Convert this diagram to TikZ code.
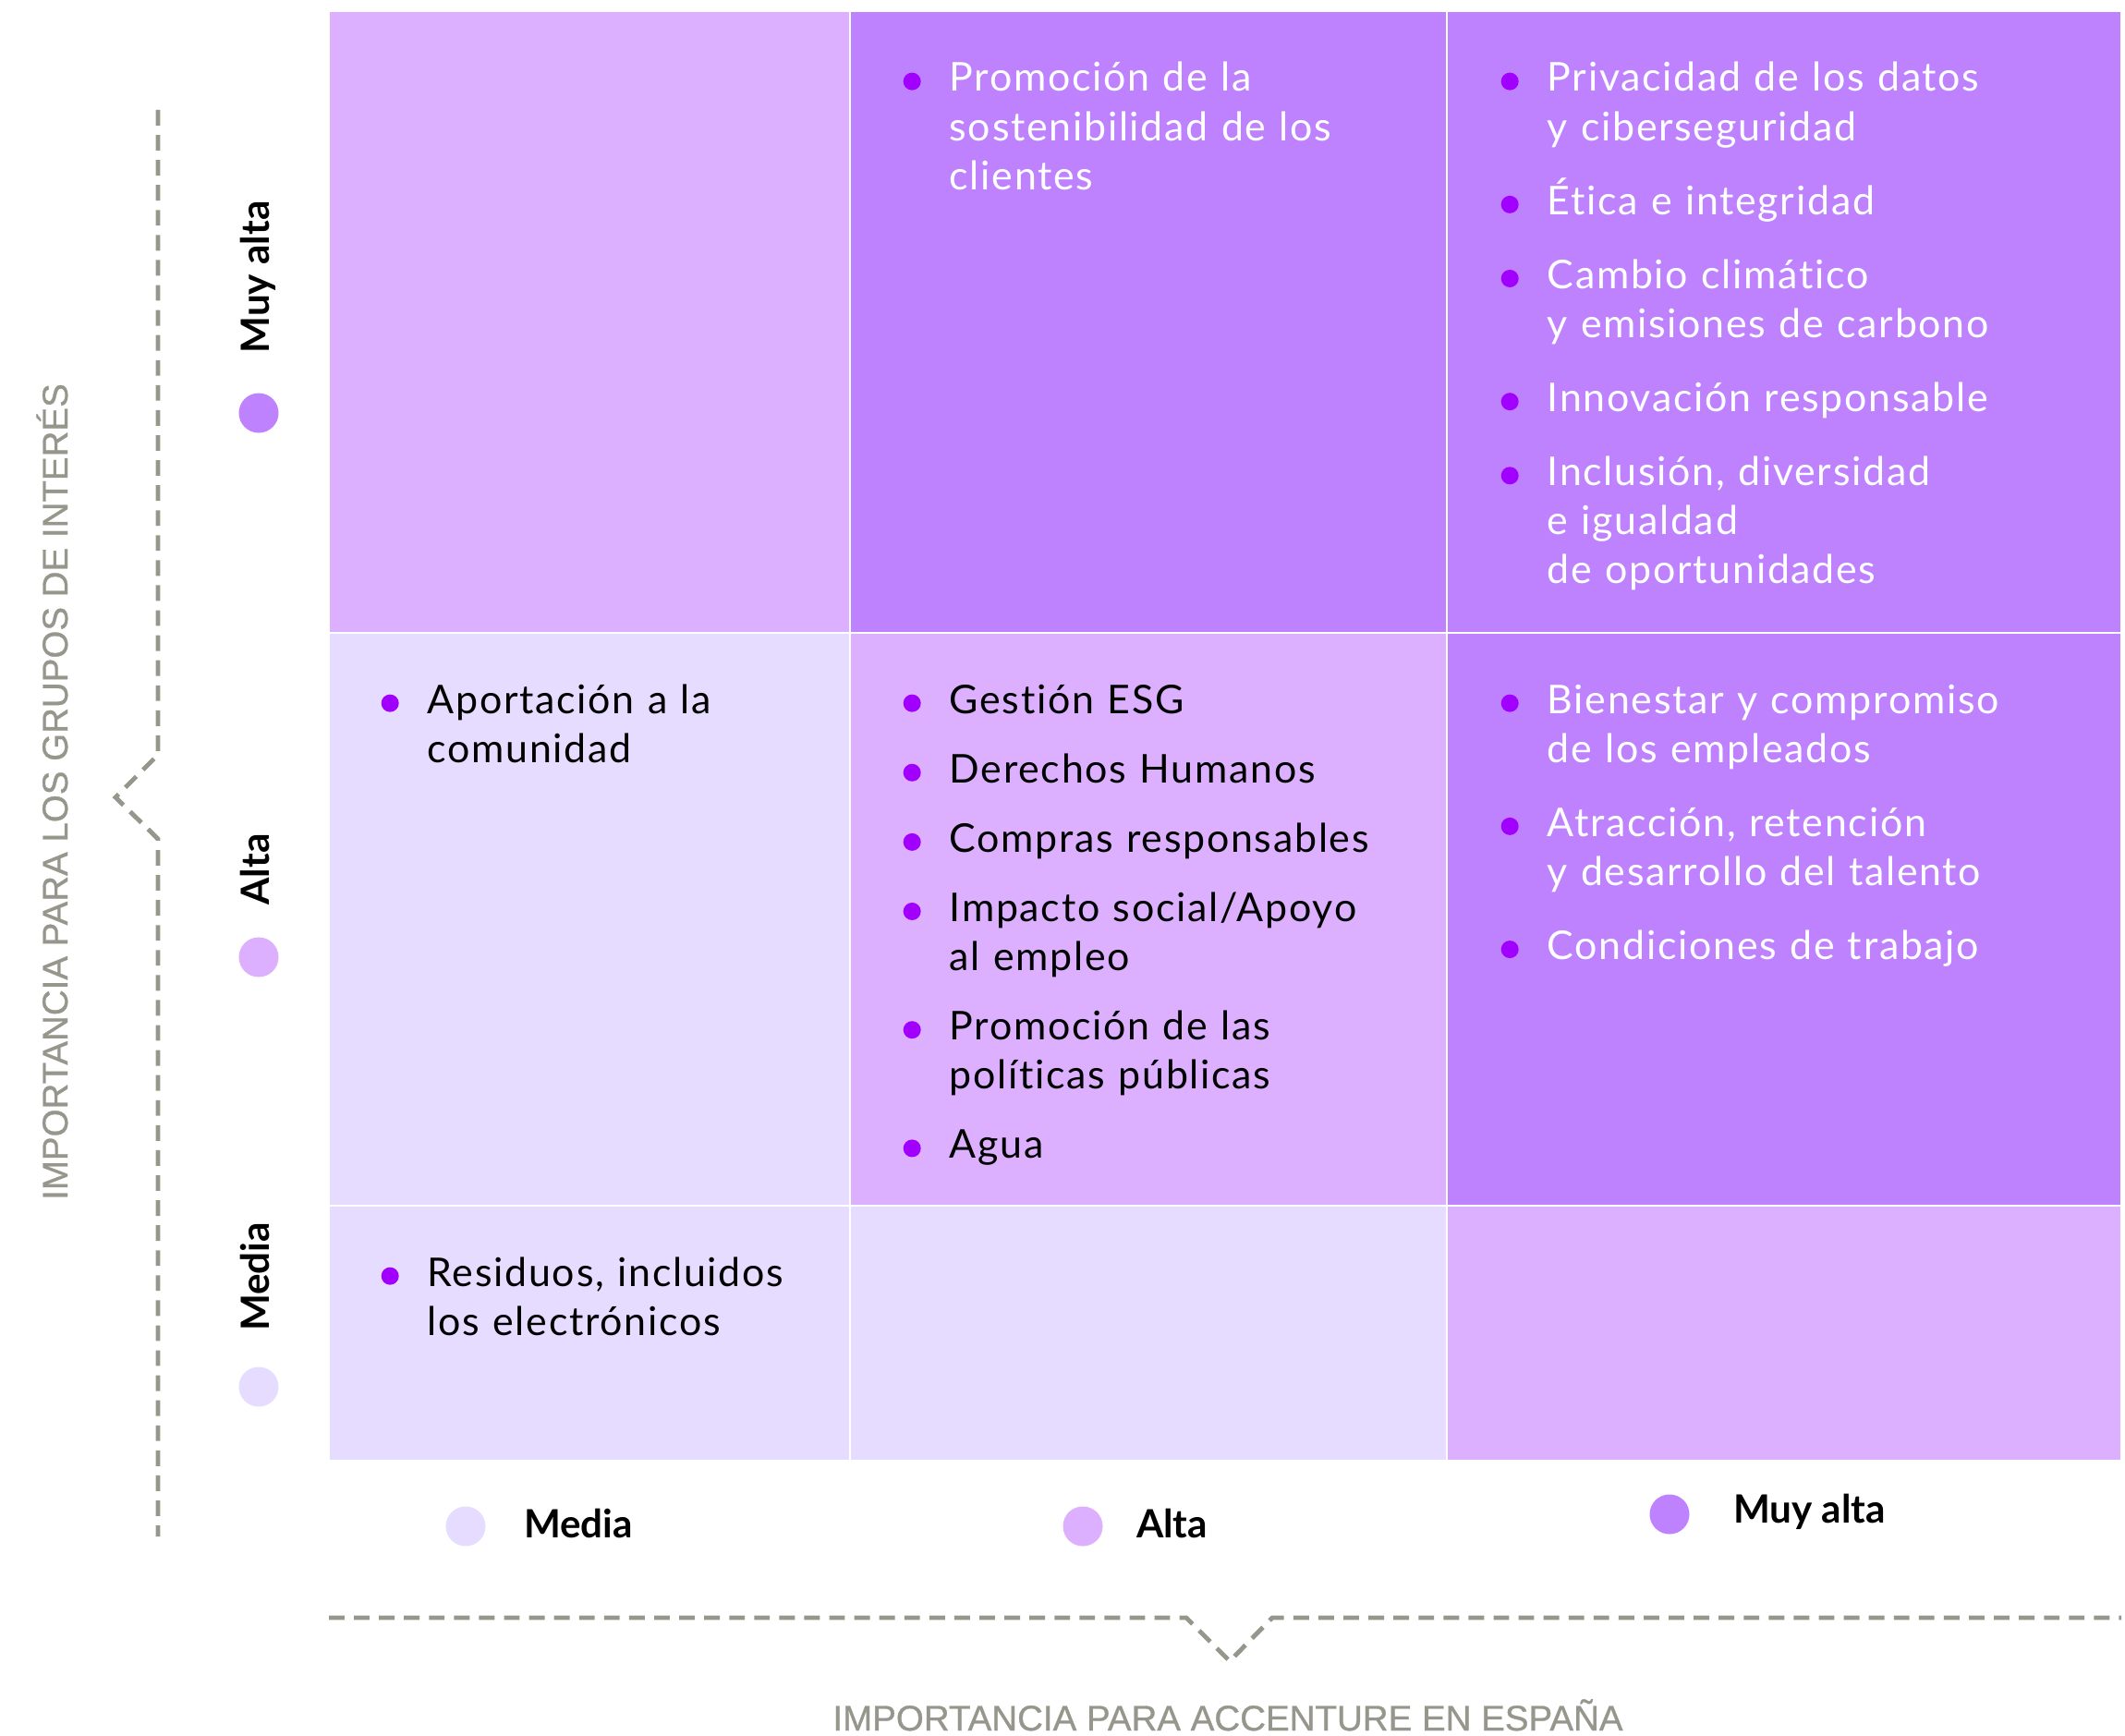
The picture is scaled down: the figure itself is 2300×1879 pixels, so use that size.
\documentclass[tikz,border=0pt]{standalone}
\usepackage{fontspec}
\setmainfont{Lato}
\newfontfamily\itmfont{Lato}[LetterSpace=4, Ligatures={NoCommon}]
\newfontfamily\axfont{Liberation Sans}[FakeBold=0.8]
\usetikzlibrary{positioning}
\definecolor{cdark}{HTML}{BE82FF}
\definecolor{cmid}{HTML}{DCAFFF}
\definecolor{clight}{HTML}{E6DCFF}
\definecolor{cbul}{HTML}{A100FF}
\definecolor{cgrey}{HTML}{96968C}
\tikzset{
  every picture/.style={line width=1pt},
  tile/.style={draw=white, line width=0.6pt, fill=#1},
  lst/.style={anchor=base west, inner sep=0pt, text width=6.2cm, align=left,
    font=\itmfont\fontsize{12.2}{15.1}\selectfont, execute at begin node={\def\itmgap{#1}}},
  lst/.default=0.27cm,
  axis/.style={draw=cgrey, line width=1.4pt, dash pattern=on 4.8pt off 2.9pt},
  axtitle/.style={text=cgrey, font=\axfont\fontsize{10.95}{13}\selectfont, inner sep=0pt},
  lvl/.style={font=\bfseries\fontsize{12}{14}\selectfont, inner sep=0pt},
  leg/.style={lvl, yshift=0.03cm},
  lvldot/.style={circle, fill=#1, minimum size=0.43cm, inner sep=0pt},
}
\newcommand{\bdot}{\tikz[baseline=-0.5ex]\fill[cbul] (0,0) circle (0.095cm);}
\newcommand{\itm}[1]{\noindent\llap{\bdot\hspace{0.31cm}}#1\par\vspace{\itmgap}}
\newcommand{\tile}[5]{ % x, y, w, h, colour
  \filldraw[tile=#5] (#1,#2) rectangle ++(#3,#4);
}

\begin{document}
\begin{tikzpicture}[x=0.01cm, y=-0.01cm]
  \useasboundingbox (0,0) rectangle (2300,1879);
  % grid
  \tile{356}{12}{564}{673}{cmid}
  \tile{920}{12}{646}{673}{cdark}
  \tile{1566}{12}{730}{673}{cdark}
  \tile{356}{685}{564}{620}{clight}
  \tile{920}{685}{646}{620}{cmid}
  \tile{1566}{685}{730}{620}{cdark}
  \tile{356}{1305}{564}{276}{clight}
  \tile{920}{1305}{646}{276}{clight}
  \tile{1566}{1305}{730}{276}{cmid}
  % topics
  \node[lst, text=white] (t12) at (1027,99) {%
    \itm{Promoción de la\\sostenibilidad de los\\clientes}};
  \node[lst, text=white] (t13) at (1674,99) {%
    \itm{Privacidad de los datos\\y ciberseguridad}
    \itm{Ética e integridad}
    \itm{Cambio climático\\y emisiones de carbono}
    \itm{Innovación responsable}
    \itm{Inclusión, diversidad\\e igualdad\\de oportunidades}};
  \node[lst] (t21) at (462,772) {\itm{Aportación a la\\comunidad}};
  \node[lst=0.22cm] (t22) at (1027,772) {%
    \itm{Gestión ESG}
    \itm{Derechos Humanos}
    \itm{Compras responsables}
    \itm{Impacto social/Apoyo\\al empleo}
    \itm{Promoción de las\\políticas públicas}
    \itm{Agua}};
  \node[lst, text=white] (t23) at (1674,772) {%
    \itm{Bienestar y compromiso\\de los empleados}
    \itm{Atracción, retención\\y desarrollo del talento}
    \itm{Condiciones de trabajo}};
  \node[lst] (t31) at (462,1392) {\itm{Residuos, incluidos\\los electrónicos}};
  % vertical axis
  \draw[axis] (171,119) -- (171,817) -- (125,863) -- (171,908) -- (171,1663);
  \node[axtitle, rotate=90, anchor=base] (ylab) at (73,857) {IMPORTANCIA PARA LOS GRUPOS DE INTERÉS};
  \node[lvl, rotate=90, anchor=base] (ymuy) at (291,300) {Muy alta};
  \node[lvl, rotate=90, anchor=base] (yalta) at (291,941) {Alta};
  \node[lvl, rotate=90, anchor=base] (ymed) at (291,1382) {Media};
  \node[lvldot=cdark] (dymuy) at (280,447) {};
  \node[lvldot=cmid] (dyalta) at (280,1036) {};
  \node[lvldot=clight] (dymed) at (280,1501) {};
  % horizontal axis
  \node[lvldot=clight] (dxmed) at (504,1652) {};
  \node[lvldot=cmid] (dxalta) at (1172,1652) {};
  \node[lvldot=cdark] (dxmuy) at (1807,1639) {};
  \node[leg, right=0.38cm of dxmed] (xmed) {Media};
  \node[leg, right=0.33cm of dxalta] (xalta) {Alta};
  \node[leg, right=0.44cm of dxmuy] (xmuy) {Muy alta};
  \draw[axis] (356,1751) -- (1284,1751) -- (1331,1798) -- (1377,1751) -- (2296,1751);
  \node[axtitle, anchor=base] (xlab) at (1329,1873) {IMPORTANCIA PARA ACCENTURE EN ESPAÑA};
\end{tikzpicture}
\end{document}
